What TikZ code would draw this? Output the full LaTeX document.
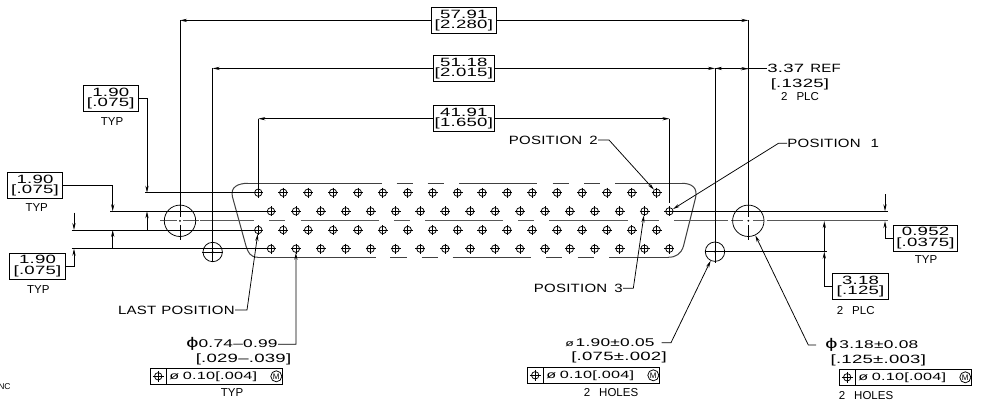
\documentclass[tikz,border=0pt]{standalone}
\usepackage{fontspec}
\setmainfont{Liberation Sans}[FakeStretch=1.25,LetterSpace=2]
\newfontfamily\cadnum{Liberation Sans}[FakeStretch=1.55,LetterSpace=2]
\newfontfamily\plainfont{Liberation Sans}
\usetikzlibrary{arrows.meta}
\tikzset{
	lbl/.style={inner sep=0pt,font=\fontsize{12}{12}\selectfont},
	typlbl/.style={inner sep=0pt,font=\fontsize{11.5}{12}\selectfont\plainfont},
	numlbl/.style={inner sep=0pt,font=\fontsize{12}{12}\selectfont\cadnum},
	dialbl/.style={inner sep=0pt,font=\fontsize{11.2}{12}\selectfont\cadnum},
	tollbl/.style={inner sep=0pt,font=\fontsize{10.5}{12}\selectfont\cadnum},
	dimbox/.style={draw,inner sep=0pt,minimum height=26,align=center,font=\fontsize{12}{10.4}\selectfont\cadnum},
	tolframe/.style={draw,inner sep=0pt,minimum width=131.4,minimum height=16,anchor=north west},
	pinhole/.style={draw,circle,inner sep=0pt,minimum size=7.4},
	bighole/.style={draw,circle,inner sep=0pt,minimum size=31.4},
	smallhole/.style={draw,circle,inner sep=0pt,minimum size=19.4},
	mcircle/.style={draw,circle,inner sep=0pt,minimum size=11,font=\fontsize{8}{8}\selectfont\plainfont},
	bodyline/.style={black!75,line width=1pt},
	cenline/.style={black!65,line width=1.1pt},
}
\begin{document}
\begin{tikzpicture}[x=1pt,y=-1pt,line width=.75pt,>={Stealth[length=7pt,width=3.2pt]}]
\useasboundingbox (0,0) rectangle (982,409);

%========================================
% CONNECTOR BODY: outline and pin rows
%========================================
\draw[bodyline] (248,183.3) .. controls (238,183.3) and (230,187) .. (232.5,197)
-- (246,246) .. controls (248,252) and (250,257.3) .. (258,257.3);
\draw[bodyline] (682,183.3) .. controls (692,183.3) and (698,188) .. (695.5,198)
-- (683.5,246) .. controls (681,254) and (676,257.3) .. (668,257.3);

% Broken top edge
\foreach \a/\b in {248/381.7,396.7/412.7,427.7/443.7,459.3/537.3,552.7/568.7,584/600,615/682}
\draw[bodyline] (\a,183.3) -- (\b,183.3);
% Broken bottom edge
\foreach \a/\b in {258/376,390/406.7,421.7/437.7,452.7/531,546/562.3,577.7/593.7,609/668}
\draw[bodyline] (\a,257.3) -- (\b,257.3);
% Centre line, left to right
\foreach \a/\b in {160/176.7,183/198.7,200/254,269.3/285,300.7/379,394/410,425/503.3,518.3/534,549.3/627.7,643.3/659,674/728,731/743,753/764,766.7/887.7}
\draw[cenline] (\a,220.8) -- (\b,220.8);

% Pins
\foreach \r/\y/\x in {1/192.7/258.3,2/211.3/271,3/230/258.3,4/248.7/271}
\foreach \c in {1,...,17}{
	\pgfmathsetmacro{\px}{\x+(\c-1)*24.9}
	\node[pinhole] (p\r-\c) at (\px,\y) {};
	\draw (p\r-\c.center) ++(-5,0) -- ++(10,0) ++(-5,-5) -- ++(0,10);
}

%========================================
% MOUNTING HOLES
%========================================
\node[bighole] (holeL) at (180,220.8) {};
\node[bighole] (holeR) at (748.3,220.8) {};
\node[smallhole] (slotL) at (212.7,252) {};
\node[smallhole] (slotR) at (715,251.7) {};
\draw (slotL.center) ++(-10.5,0) -- ++(21,0);
\draw (slotR.center) ++(-10.5,0) -- ++(21,0);
\foreach \h in {holeL,holeR}
\fill (\h) circle (1pt);
\foreach \h in {slotL,slotR}
\fill (\h) circle (1pt);

%========================================
% TOP DIMENSIONS
%========================================
\node[dimbox,minimum width=64.3] (box57) at (463.8,20.4) {57.91\\{}[2.280]};
\node[dimbox,minimum width=61] (box51) at (463.8,68.4) {51.18\\{}[2.015]};
\node[dimbox,minimum width=61] (box41) at (463.8,118.7) {41.91\\{}[1.650]};

\coordinate (holeLtop) at (holeL |- box57);
\coordinate (holeRtop) at (holeR |- box57);
\coordinate (slotLtop) at (slotL |- box51);
\coordinate (slotRtop) at (slotR |- box51);
\coordinate (pinLtop) at (p1-1 |- box41);
\coordinate (pinRtop) at (p2-17 |- box41);

\draw[->] (box57.west) -- (holeLtop);
\draw[->] (box57.east) -- (holeRtop);
\draw[->] (box51.west) -- (slotLtop);
\draw[->] (box51.east) -- (slotRtop);
\draw[->] (box41.west) -- (pinLtop);
\draw[->] (box41.east) -- (pinRtop);

% Witness lines down to holes and pins
\draw (holeLtop) -- ([yshift=4pt]holeL.center);
\draw ([yshift=-4pt]holeL.center) -- ++(0,15.5);
\draw (holeRtop) -- ([yshift=4pt]holeR.center);
\draw ([yshift=-4pt]holeR.center) -- ++(0,15.5);
\draw (slotLtop) -- ([yshift=-10pt]slotL.center);
\draw (slotRtop) -- ([yshift=-11pt]slotR.center);
\draw (pinLtop) -- (p1-1);
\draw (pinRtop) -- ([yshift=8pt]p2-17.center);

% 3.37 REF
\node[lbl,anchor=west] (ref337) at (767,68.7) {\cadnum 3.37\hspace{6pt}\normalfont REF};
\node[numlbl] (ref1325) at (800,84) {[.1325]};
\node[typlbl] (ref2plc) at (800,96.7) {2\hspace{9pt}PLC};
\draw (ref337.west) -- (holeRtop |- ref337.west);
\draw[->] (holeRtop |- ref337.west) -- (slotRtop);
\draw[->] (slotRtop) -- (holeRtop |- ref337.west);

%========================================
% LEFT DIMENSIONS
%========================================
\node[dimbox,minimum width=55] (box190a) at (110.8,98.3) {1.90\\{}[.075]};
\node[typlbl] (typa) at (112,122) {TYP};
\node[dimbox,minimum width=55.4] (box190b) at (35,185.3) {1.90\\{}[.075]};
\node[typlbl] (typb) at (36.7,208) {TYP};
\node[dimbox,minimum width=56.4] (box190c) at (37.5,266) {1.90\\{}[.075]};
\node[typlbl] (typc) at (38.3,290) {TYP};

\coordinate (extA) at (145,192.7);
\coordinate (extB) at (110,211.3);
\coordinate (extC) at (71.7,230);
\coordinate (extD) at (71.7,248.7);

\draw (extA) -- (p1-1);
\draw (extB) -- (p2-1);
\draw (extC) -- (p3-1);
\draw (extD) -- (p4-1);

\draw[->] (box190a.east) -| ([xshift=2pt]extA);
\draw[->] (box190b.east) -| ([xshift=2.7pt]extB);
\draw[->] (box190c.east) -| ([xshift=2.3pt]extD);
\draw[->] ([xshift=2pt]extA |- extC) -- ([xshift=2pt]extA |- extB);
\draw[->] ([xshift=2.7pt]extB |- extD) -- ([xshift=2.7pt]extB |- extC);
\draw[->] (74,212.7) -- ([xshift=2.3pt]extC);

%========================================
% RIGHT DIMENSIONS
%========================================
\node[dimbox,minimum width=64.4] (box0952) at (925.5,238) {0.952\\{}[.0375]};
\node[typlbl] (typd) at (926,260) {TYP};
\node[dimbox,minimum width=55.6] (box318) at (860.5,286.3) {3.18\\{}[.125]};
\node[typlbl] (plc2) at (855.7,310.7) {2\hspace{9pt}PLC};

\coordinate (extE) at (887.7,211.3);
\coordinate (extF) at (826.7,251.7);
\draw (p2-17) -- (extE);
\draw (slotR) -- (extF);

\draw[->] (885,194.3) -- (885,211.3);
\draw[->] (box0952.west) -| (885,221.1);
\draw[->] (box318.west) -| (824.3,251.7);
\draw[->] (824.3,251.7) -- (824.3,221.1);

%========================================
% POSITION CALLOUTS
%========================================
\node[lbl,anchor=east] (pos2) at (598,140) {POSITION\hspace{7pt}2};
\node[lbl,anchor=west] (pos1) at (787,143.3) {POSITION\hspace{10pt}1};
\node[lbl,anchor=east] (pos3) at (623,288.3) {POSITION\hspace{7pt}3};
\node[lbl,anchor=east] (lastpos) at (235,310) {LAST\hspace{5pt}POSITION};

\draw[->] (pos2.east) -- ++(11,0) -- (p1-17);
\draw[->] (pos1.west) -- ++(-8.5,0) -- (p2-17);
\draw[->] (pos3.east) -- ++(10.3,0) -- (p2-16);
\draw[->] (lastpos.east) -- ++(12,0) -- (p3-1);

%========================================
% BOTTOM CALLOUTS: diameters and tolerance frames
%========================================
\node[dialbl,anchor=east] (diaPin) at (278,344.3) {{\fontsize{14}{14}\selectfont ϕ}0.74–0.99};
\node[numlbl] (diaPinb) at (243.5,359.3) {[.029–.039]};
\node[typlbl] (type) at (232,392.3) {TYP};
\draw[->] (diaPin.east) -- ++(18,0) -- (p4-2);

\node[dialbl,anchor=east] (diaSlot) at (655,342.7) {{\fontsize{9}{9}\selectfont\o}\,1.90±0.05};
\node[numlbl] (diaSlotb) at (619,357.3) {[.075±.002]};
\node[typlbl] (holes2a) at (611,392.7) {2\hspace{9pt}HOLES};
\draw[->] ([xshift=6.7pt]diaSlot.east) -- ++(9.3,0) -- (slotR);

\node[dialbl,anchor=west] (diaHole) at (825,345) {{\fontsize{14}{14}\selectfont ϕ}\,3.18±0.08};
\node[numlbl] (diaHoleb) at (878.3,360.7) {[.125±.003]};
\node[typlbl] (holes2b) at (866,396) {2\hspace{9pt}HOLES};
\draw[->] ([xshift=-9pt]diaHole.west) -- ++(-7.7,0) -- (holeR);

\foreach \i/\x/\y in {A/150.3/368.3,B/527.3/367.3,C/839.3/369.3}{
	\node[tolframe] (frame\i) at (\x,\y) {};
	\draw (\x+15.7,\y) -- (\x+15.7,\y+16);
	\node[pinhole] (sym\i) at (\x+7.9,\y+8) {};
	\draw (sym\i.center) ++(-5.5,0) -- ++(11,0) ++(-5.5,-5.5) -- ++(0,11);
	\node[tollbl] (tol\i) at (\x+63,\y+8) {\o\,\,0.10[.004]};
	\node[mcircle] (mmc\i) at (\x+126,\y+8) {M};
}

% Text cut by the left edge
\node[inner sep=0pt,anchor=east,font=\fontsize{8.5}{10}\selectfont\plainfont] (cutnote) at (11,386.7) {NC};
\end{tikzpicture}
\end{document}
